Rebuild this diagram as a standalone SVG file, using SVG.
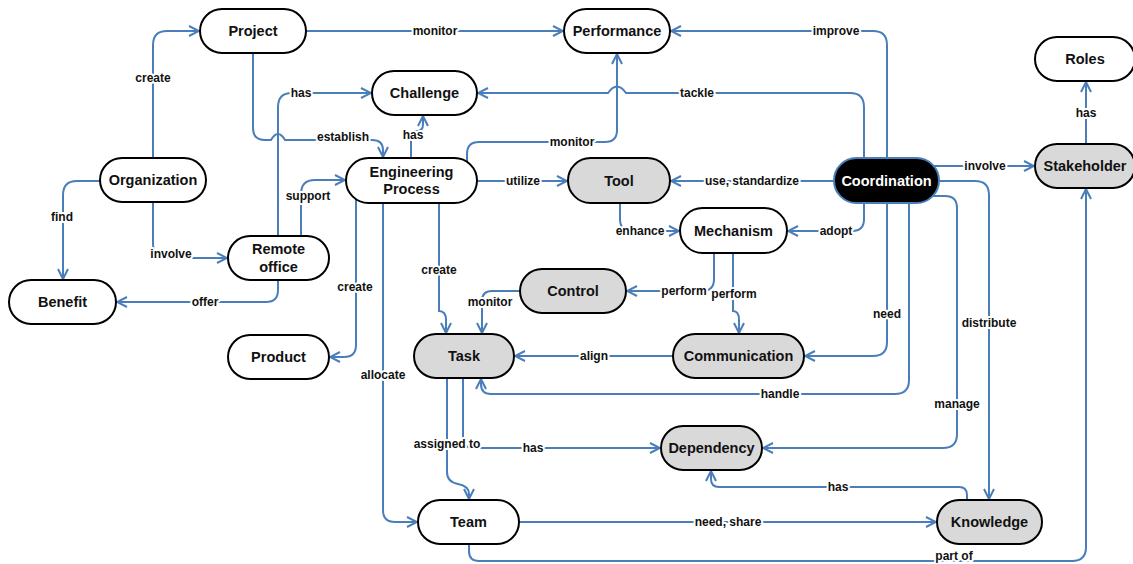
<svg xmlns="http://www.w3.org/2000/svg" width="1133" height="564" viewBox="0 0 1133 564">
<style>
.n rect{stroke:#000;stroke-width:2}
.w{fill:#fff}
.g{fill:#d9d9d9}
.k{fill:#000;stroke:#4a7ebb !important}
.n text{font-family:"Liberation Sans",Arial,sans-serif;font-weight:bold;font-size:14.5px;text-anchor:middle;fill:#111}
.n text.inv{fill:#fff}
#edges path{fill:none;stroke:#4a7ebb;stroke-width:2;marker-end:url(#a)}
#labels text{font-family:"Liberation Sans",Arial,sans-serif;font-weight:bold;font-size:12px;text-anchor:middle;fill:#111;stroke:#fff;stroke-width:4;paint-order:stroke;stroke-linejoin:round}
</style>
<defs>
<marker id="a" viewBox="0 0 12 12" refX="11" refY="6" markerWidth="12" markerHeight="12" markerUnits="userSpaceOnUse" orient="auto">
<path d="M1,1 L11,6 L1,11" fill="none" stroke="#4a7ebb" stroke-width="2"/>
</marker>
</defs>
<rect width="1133" height="564" fill="#fff"/>
<g id="edges">
<path d="M153,158 V45 Q153,31 167,31 H199"/>
<path d="M306,31 H563"/>
<path d="M887,158 V45 Q887,31 873,31 H671"/>
<path d="M864,158 V107 Q864,93 850,93 H626 Q617,80 608,93 H478"/>
<path d="M278,236 V107 Q278,93 292,93 H371"/>
<path d="M411,158 V138 Q411,131 417,131 Q423,131 423,124 V116"/>
<path d="M467,162 V154 Q467,142 479,142 H605 Q617,142 617,130 V54"/>
<path d="M253,53 V128 Q253,140 265,140 H271 Q278,128 285,140 H372 Q383,140 383,150 V157"/>
<path d="M301,236 V194 Q301,180 315,180 H345"/>
<path d="M477,181 H567"/>
<path d="M834,181 H671"/>
<path d="M934,166 H1034"/>
<path d="M1086,144 V82"/>
<path d="M469,544 V551 Q469,561 479,561 H1072 Q1086,561 1086,547 V189"/>
<path d="M100,181 H77 Q63,181 63,195 V279"/>
<path d="M153,203 V244 Q153,258 167,258 H227"/>
<path d="M278,280 V290 Q278,302 266,302 H117"/>
<path d="M356,199 V345 Q356,357 344,357 H330"/>
<path d="M383,203 V510 Q383,522 395,522 H417"/>
<path d="M439,203 V311 Q446,311 446,320 V333"/>
<path d="M520,291 H492 Q482,291 482,301 V333"/>
<path d="M714,253 V279 Q714,291 702,291 H627"/>
<path d="M733,253 V311 Q739,311 739,320 V333"/>
<path d="M620,203 V219 Q620,231 632,231 H679"/>
<path d="M864,203 V219 Q864,231 852,231 H788"/>
<path d="M887,203 V342 Q887,356 873,356 H805"/>
<path d="M909,203 V380 Q909,394 895,394 H491 Q481,394 481,384 V379"/>
<path d="M932,196 H945 Q957,196 957,208 V434 Q957,448 943,448 H763"/>
<path d="M939,181 H975 Q989,181 989,195 V499"/>
<path d="M463,378 V438 Q463,448 473,448 H660"/>
<path d="M447,378 V472 Q447,482 458,484 Q469,486 469,494 V499"/>
<path d="M519,522 H936"/>
<path d="M967,500 V495 Q967,487 959,487 H719 Q711,487 711,479 V471"/>
<path d="M673,356 H515"/>
</g>
<g id="labels">
<text x="153" y="82">create</text>
<text x="435" y="35">monitor</text>
<text x="836" y="35">improve</text>
<text x="697" y="97">tackle</text>
<text x="301" y="97">has</text>
<text x="413" y="139">has</text>
<text x="572" y="146">monitor</text>
<text x="343" y="141">establish</text>
<text x="308" y="200">support</text>
<text x="523" y="185">utilize</text>
<text x="752" y="185">use, standardize</text>
<text x="985" y="170">involve</text>
<text x="1086" y="117">has</text>
<text x="954" y="560">part of</text>
<text x="62" y="221">find</text>
<text x="171" y="258">involve</text>
<text x="205" y="306">offer</text>
<text x="355" y="291">create</text>
<text x="383" y="379">allocate</text>
<text x="439" y="274">create</text>
<text x="490" y="306">monitor</text>
<text x="684" y="295">perform</text>
<text x="734" y="298">perform</text>
<text x="640" y="235">enhance</text>
<text x="836" y="235">adopt</text>
<text x="887" y="318">need</text>
<text x="780" y="398">handle</text>
<text x="957" y="408">manage</text>
<text x="989" y="327">distribute</text>
<text x="533" y="452">has</text>
<text x="447" y="448">assigned to</text>
<text x="728" y="526">need, share</text>
<text x="838" y="491">has</text>
<text x="594" y="360">align</text>
</g>
<g id="project" class="n"><rect class="w" x="200" y="9" width="106" height="44" rx="22"/><text x="253" y="36">Project</text></g>
<g id="performance" class="n"><rect class="w" x="564" y="9" width="106" height="44" rx="22"/><text x="617" y="36">Performance</text></g>
<g id="challenge" class="n"><rect class="w" x="372" y="71" width="105" height="44" rx="22"/><text x="424.5" y="98">Challenge</text></g>
<g id="roles" class="n"><rect class="w" x="1035" y="37" width="100" height="44" rx="22"/><text x="1085" y="64">Roles</text></g>
<g id="organization" class="n"><rect class="w" x="100" y="158" width="106" height="44" rx="22"/><text x="153" y="185">Organization</text></g>
<g id="engineering-process" class="n"><rect class="w" x="346" y="158" width="131" height="45" rx="22.5"/><text x="411.5" y="177">Engineering</text><text x="411.5" y="194">Process</text></g>
<g id="tool" class="n"><rect class="g" x="568" y="158" width="102" height="45" rx="22.5"/><text x="619" y="186">Tool</text></g>
<g id="coordination" class="n"><rect class="k" x="834" y="158" width="105" height="45" rx="22.5"/><text class="inv" x="886.5" y="186">Coordination</text></g>
<g id="stakeholder" class="n"><rect class="g" x="1035" y="144" width="100" height="44" rx="22"/><text x="1085" y="171">Stakeholder</text></g>
<g id="remote-office" class="n"><rect class="w" x="228" y="236" width="101" height="44" rx="22"/><text x="278.5" y="254">Remote</text><text x="278.5" y="272">office</text></g>
<g id="mechanism" class="n"><rect class="w" x="680" y="208" width="107" height="45" rx="22.5"/><text x="733.5" y="236">Mechanism</text></g>
<g id="benefit" class="n"><rect class="w" x="9" y="280" width="107" height="44" rx="22"/><text x="62.5" y="307">Benefit</text></g>
<g id="control" class="n"><rect class="g" x="520" y="269" width="106" height="44" rx="22"/><text x="573" y="296">Control</text></g>
<g id="product" class="n"><rect class="w" x="228" y="335" width="101" height="44" rx="22"/><text x="278.5" y="362">Product</text></g>
<g id="task" class="n"><rect class="g" x="414" y="334" width="100" height="44" rx="22"/><text x="464" y="361">Task</text></g>
<g id="communication" class="n"><rect class="g" x="673" y="334" width="131" height="44" rx="22"/><text x="738.5" y="361">Communication</text></g>
<g id="dependency" class="n"><rect class="g" x="661" y="426" width="101" height="44" rx="22"/><text x="711.5" y="453">Dependency</text></g>
<g id="team" class="n"><rect class="w" x="418" y="500" width="101" height="44" rx="22"/><text x="468.5" y="527">Team</text></g>
<g id="knowledge" class="n"><rect class="g" x="937" y="500" width="105" height="44" rx="22"/><text x="989.5" y="527">Knowledge</text></g>
</svg>
